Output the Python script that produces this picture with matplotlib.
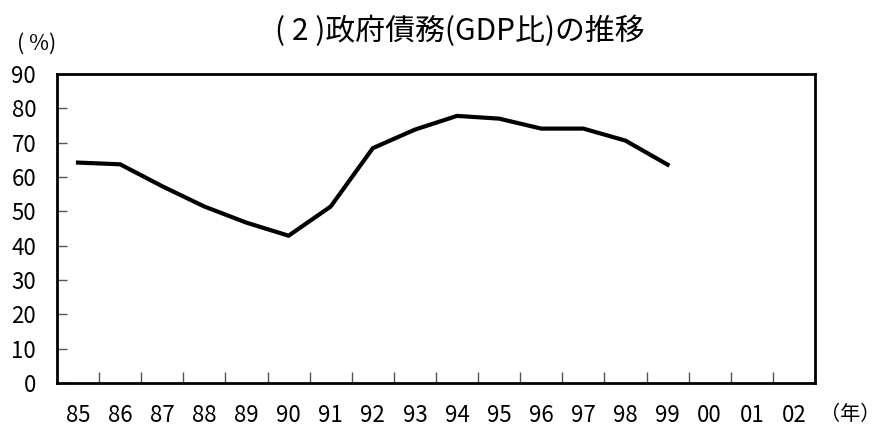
import matplotlib
matplotlib.use("Agg")
import matplotlib.pyplot as plt
import numpy as np

plt.rcParams['font.family'] = ['Noto Sans CJK JP', 'DejaVu Sans']

# data
years = ["85", "86", "87", "88", "89", "90", "91", "92", "93",
         "94", "95", "96", "97", "98", "99", "00", "01", "02"]
debt_gdp = [64.2, 63.7, 57.3, 51.4, 46.7, 42.9, 51.4, 68.4, 73.8,
            77.8, 77.0, 74.1, 74.1, 70.6, 63.6]
y_ticks = [0, 10, 20, 30, 40, 50, 60, 70, 80, 90]

fig = plt.figure(figsize=(8.82, 4.32), dpi=100)
ax = fig.add_axes([0.0646, 0.1134, 0.8594, 0.7153])

x = np.arange(len(debt_gdp))
ax.plot(x, debt_gdp, color="black", linewidth=3.0, solid_joinstyle="miter")

ax.set_xlim(-0.5, len(years) - 0.5)
ax.set_ylim(0, 90)

# y axis
ax.set_yticks(y_ticks)
ax.set_yticklabels([str(v) for v in y_ticks], fontsize=16)
ax.tick_params(axis="y", direction="in", length=7, width=1.0,
               color="#555555", pad=15)

# x axis: ticks at category boundaries, labels at centres
ax.set_xticks(np.arange(0.5, len(years) - 0.5, 1.0))
ax.set_xticklabels([])
ax.set_xticks(np.arange(len(years)), minor=True)
ax.set_xticklabels(years, minor=True, fontsize=16)
ax.tick_params(axis="x", which="minor", length=0, pad=15)
ax.tick_params(axis="x", which="major", direction="in", length=8,
               width=1.0, color="#555555")

for s in ax.spines.values():
    s.set_linewidth(2.0)
    s.set_color("black")

fig.text(0.521, 0.928, "( 2 )政府債務(GDP比)の推移", ha="center", va="center",
         fontsize=21.5)
fig.text(0.042, 0.898, "( %)", ha="center", va="center", fontsize=15.5)
fig.text(0.964, 0.040, "（年）", ha="center", va="center", fontsize=14.5)

fig.savefig("out.png", dpi=100)
